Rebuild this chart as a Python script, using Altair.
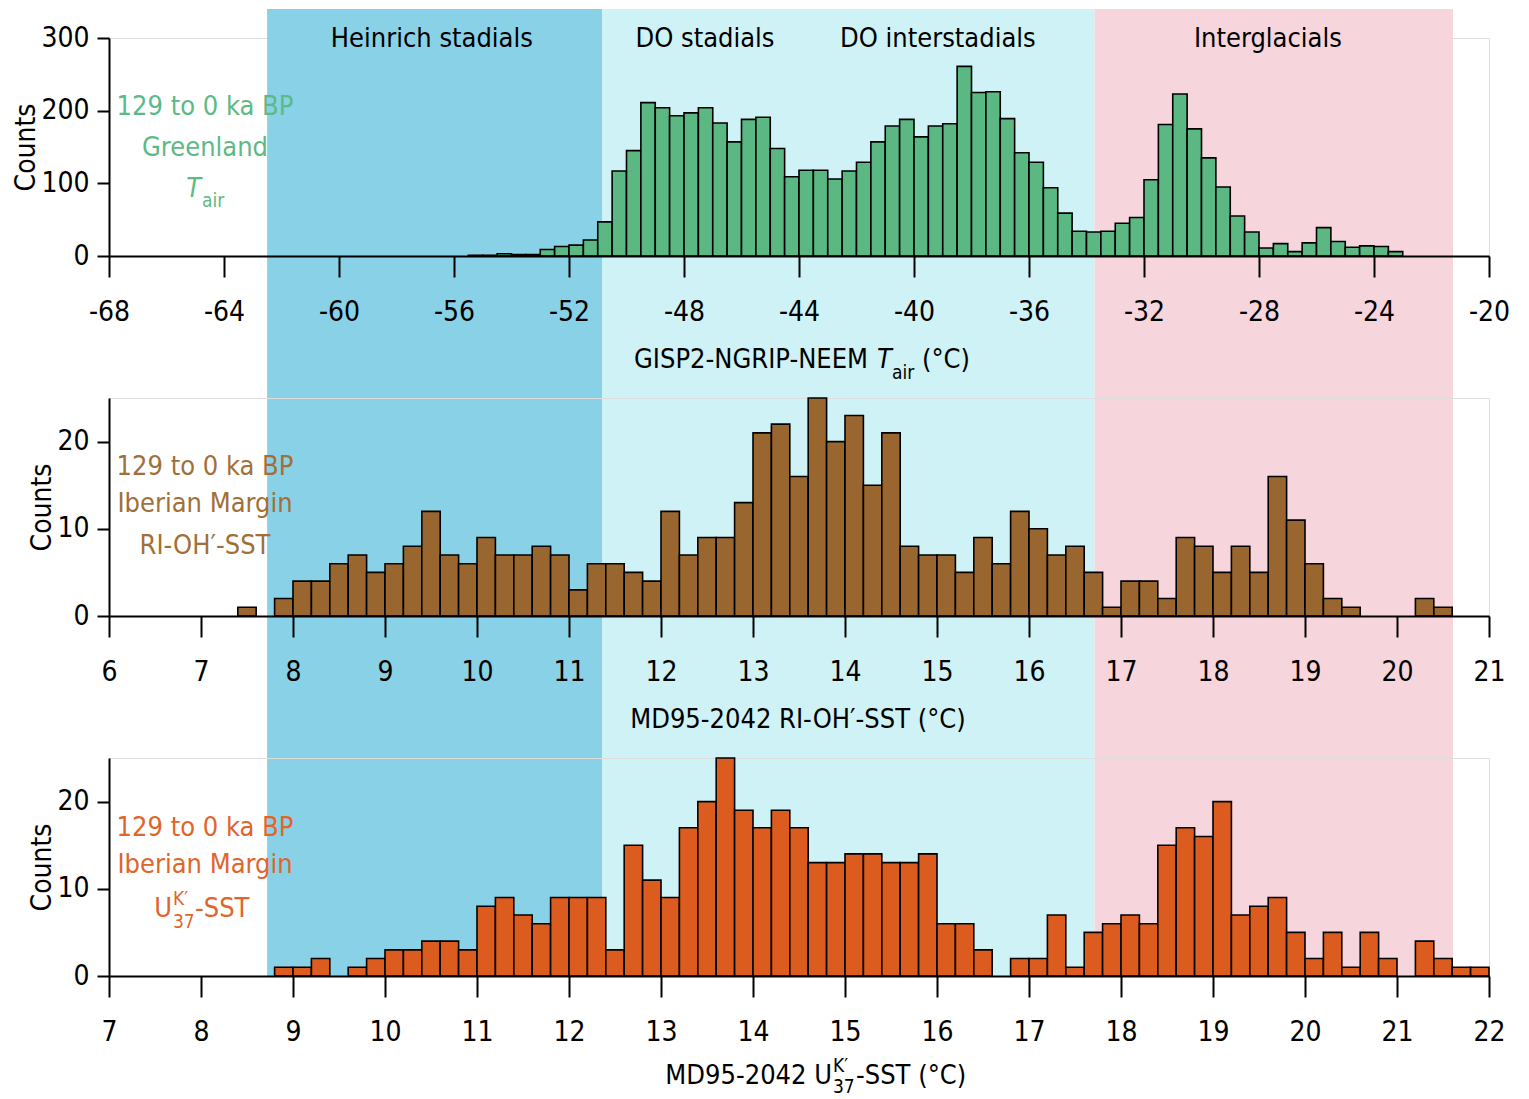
import altair as alt
import pandas as pd

# ---------------- data ----------------
# Panel 1: GISP2-NGRIP-NEEM Tair histogram, 0.5 degC bins, first bin starts at -55.5
tair_first_bin = -55.5
tair_bin_width = 0.5
tair_counts = [1, 1, 3, 2, 2, 9, 13, 15, 22, 47, 117, 145,
               211, 204, 193, 197, 204, 183, 157, 188, 191, 148,
               109, 118, 118, 106, 117, 129, 157, 179,
               188, 164, 179, 182, 261, 225, 226, 189,
               142, 129, 94, 59, 34, 33, 34, 45, 53,
               105, 181, 223, 175, 135, 95, 55, 33,
               11, 17, 6, 18, 39, 20, 12, 14, 13, 6]

# Panel 2: MD95-2042 RI-OH'-SST histogram, 0.2 degC bins, first bin starts at 7.4
rioh_first_bin = 7.4
rioh_bin_width = 0.2
rioh_counts = [1, 0, 2, 4, 4, 6, 7, 5, 6, 8, 12, 7, 6, 9, 7, 7, 8, 7,
               3, 6, 6, 5, 4, 12, 7, 9, 9, 13, 21, 22, 16, 25, 20, 23,
               15, 21, 8, 7, 7, 5, 9, 6, 12, 10, 7, 8, 5, 1, 4, 4, 2,
               9, 8, 5, 8, 5, 16, 11, 6, 2, 1, 0, 0, 0, 2, 1]

# Panel 3: MD95-2042 UK'37-SST histogram, 0.2 degC bins, first bin starts at 8.8
uk_first_bin = 8.8
uk_bin_width = 0.2
uk_counts = [1, 1, 2, 0, 1, 2, 3, 3, 4, 4, 3, 8, 9, 7, 6, 9, 9, 9,
             3, 15, 11, 9, 17, 20, 25, 19, 17, 19, 17, 13, 13, 14,
             14, 13, 13, 14, 6, 6, 3, 0, 2, 2, 7, 1, 5, 6, 7, 6,
             15, 17, 16, 20, 7, 8, 9, 5, 2, 5, 1, 5, 2, 0, 4, 2, 1, 1]

# Climate-state bands, in Greenland Tair units (top panel's axis)
band_names = ["Heinrich stadials", "DO", "Interglacials"]
band_starts = [-62.5, -50.85, -33.72]
band_ends = [-50.85, -33.72, -21.25]
band_colors = ["#88D1E6", "#CEF2F5", "#F6D5DD"]

band_labels = ["Heinrich stadials", "DO stadials", "DO interstadials", "Interglacials"]
band_label_x = [-56.77, -47.27, -39.17, -27.69]

tair_ticks = list(range(-68, -19, 4))
rioh_ticks = list(range(6, 22))
uk_ticks = list(range(7, 23))

# ---------------- layout / style ----------------
W, H, GAP = 1380, 218, 142
FONT = "DejaVu Sans Condensed, Liberation Sans, sans-serif"
FS = 28      # tick labels, axis titles
FT = 27      # annotations
FS_SUB = 19  # sub/superscripts
GREEN, BROWN, ORANGE = "#5BB882", "#9A6630", "#DC5B1F"
GREEN_T, BROWN_T, ORANGE_T = "#5DB985", "#A26F38", "#E0652B"


def hist_frame(first, width, counts):
    rows = []
    for i, c in enumerate(counts):
        if c > 0:
            lo = round(first + i * width, 3)
            rows.append({"x0": lo, "x1": round(lo + width, 3), "count": c})
    return pd.DataFrame(rows)


def x_enc(field, domain, ticks):
    return alt.X(
        field, type="quantitative",
        scale=alt.Scale(domain=domain, nice=False, zero=False),
        axis=alt.Axis(values=ticks, title=None, labelExpr="'' + datum.value",
                      tickSize=21, tickWidth=2, tickColor="black",
                      domainWidth=2, domainColor="black",
                      labelFont=FONT, labelFontSize=FS, labelColor="black",
                      labelPadding=21, labelFlush=False, labelOverlap=False,
                      grid=False, zindex=1),
    )


def y_enc(domain, ticks):
    return alt.Y(
        "count", type="quantitative",
        scale=alt.Scale(domain=domain, nice=False, zero=True),
        axis=alt.Axis(values=ticks, title="Counts",
                      tickSize=12, tickWidth=2, tickColor="black",
                      domainWidth=2, domainColor="black",
                      labelFont=FONT, labelFontSize=FS, labelColor="black",
                      labelPadding=8, labelFlush=False, labelOverlap=False,
                      titleFont=FONT, titleFontSize=FS, titleFontWeight="normal",
                      titleColor="black", titlePadding=0,
                      grid=False, zindex=1),
    )


def txt(s, px, py, color="black", size=FT, align="center", style="normal"):
    return alt.Chart(pd.DataFrame({"s": [s]})).mark_text(
        font=FONT, fontSize=size, color=color, align=align,
        baseline="alphabetic", fontStyle=style,
    ).encode(x=alt.value(px), y=alt.value(py), text="s:N")


def bars(df, color, domain_x, ticks_x, domain_y, ticks_y):
    return alt.Chart(df).mark_rect(
        color=color, stroke="black", strokeWidth=1.6
    ).encode(
        x=x_enc("x0", domain_x, ticks_x),
        x2="x1",
        y=y_enc(domain_y, ticks_y),
        y2=alt.datum(0),
    )


# ---------------- panel 1 ----------------
dom1 = [-68, -20]
bands_df = pd.DataFrame({"name": band_names, "b0": band_starts,
                         "b1": band_ends, "col": band_colors})
bands = alt.Chart(bands_df).mark_rect().encode(
    x=x_enc("b0", dom1, tair_ticks),
    x2="b1",
    y=alt.value(-29),
    y2=alt.value(2 * (H + GAP) + H),
    color=alt.Color("col:N", scale=None),
)
band_text = alt.Chart(pd.DataFrame({"label": band_labels, "xc": band_label_x})).mark_text(
    font=FONT, fontSize=FT, color="black", baseline="alphabetic"
).encode(x=x_enc("xc", dom1, tair_ticks), y=alt.value(9), text="label:N")

p1 = alt.layer(
    bands,
    bars(hist_frame(tair_first_bin, tair_bin_width, tair_counts), GREEN,
         dom1, tair_ticks, [0, 300], [0, 100, 200, 300]),
    band_text,
    txt("129 to 0 ka BP", 96, 77, GREEN_T),
    txt("Greenland", 96, 118, GREEN_T),
    txt("T", 92, 159, GREEN_T, align="right", style="italic"),
    txt("air", 93, 169, GREEN_T, size=FS_SUB, align="left"),
    txt("GISP2-NGRIP-NEEM", 759, 330, align="right"),
    txt("T", 768, 330, align="left", style="italic"),
    txt("air", 783, 341, size=FS_SUB, align="left"),
    txt("(°C)", 813, 330, align="left"),
).properties(width=W, height=H)

# ---------------- panel 2 ----------------
p2 = alt.layer(
    bars(hist_frame(rioh_first_bin, rioh_bin_width, rioh_counts), BROWN,
         [6, 21], rioh_ticks, [0, 25], [0, 10, 20]),
    txt("129 to 0 ka BP", 96, 77, BROWN_T),
    txt("Iberian Margin", 96, 114, BROWN_T),
    txt("RI-OH\u2032-SST", 96, 156, BROWN_T),
    txt("MD95-2042 RI-OH\u2032-SST (°C)", 689, 330),
).properties(width=W, height=H)

# ---------------- panel 3 ----------------
p3 = alt.layer(
    bars(hist_frame(uk_first_bin, uk_bin_width, uk_counts), ORANGE,
         [7, 22], uk_ticks, [0, 25], [0, 10, 20]),
    txt("129 to 0 ka BP", 96, 78, ORANGE_T),
    txt("Iberian Margin", 96, 115, ORANGE_T),
    txt("U", 63, 159, ORANGE_T, align="right"),
    txt("K\u2032", 64, 147, ORANGE_T, size=FS_SUB, align="left"),
    txt("37", 64, 170, ORANGE_T, size=FS_SUB, align="left"),
    txt("-SST", 86, 159, ORANGE_T, align="left"),
    txt("MD95-2042 U", 723, 326, align="right"),
    txt("K\u2032", 724, 314, size=FS_SUB, align="left"),
    txt("37", 724, 335, size=FS_SUB, align="left"),
    txt("-SST (°C)", 747, 326, align="left"),
).properties(width=W, height=H)

chart = alt.vconcat(p1, p2, p3, spacing=GAP, bounds="flush").properties(
    padding={"left": 4, "top": 0, "right": 0, "bottom": 0}
).configure_view(stroke="transparent").configure(font=FONT)

chart.save("out.html", embed_options={"renderer": "svg", "actions": False})
